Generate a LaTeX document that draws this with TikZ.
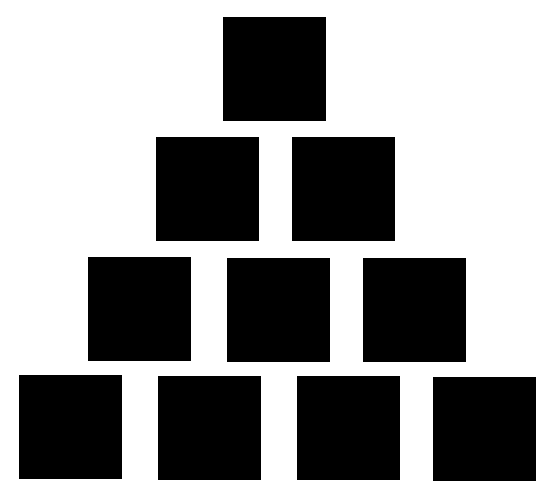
\documentclass[tikz,border=0pt]{standalone}
\begin{document}
\begin{tikzpicture}[x=1pt,y=-1pt,
  sq/.style={fill=black,inner sep=0pt,outer sep=0pt,minimum width=103pt,minimum height=104pt,draw=none}]
\useasboundingbox[fill=white] (0,0) rectangle (553,497);
\node[sq] (a1) at (274,69) {};
\node[sq] (b1) at (207.5,189) {};
\node[sq] (b2) at (343.5,189) {};
\node[sq] (c1) at (139.5,309) {};
\node[sq] (c2) at (278.5,310) {};
\node[sq] (c3) at (414.5,310) {};
\node[sq] (d1) at (70.5,427) {};
\node[sq] (d2) at (209.5,428) {};
\node[sq] (d3) at (348.5,428) {};
\node[sq] (d4) at (484.5,429) {};
\end{tikzpicture}
\end{document}
